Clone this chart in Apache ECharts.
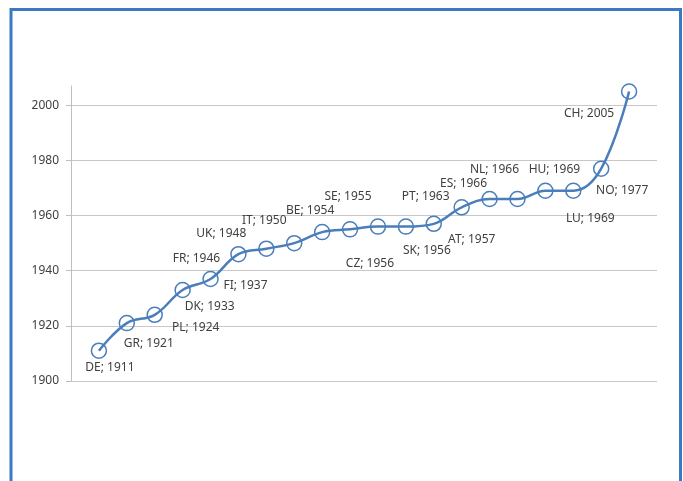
<!DOCTYPE html>
<html>
<head>
<meta charset="utf-8">
<script src="https://cdn.jsdelivr.net/npm/echarts@6/dist/echarts.min.js"></script>
<style>
html,body{margin:0;padding:0;background:#fff;}
#chart{width:683px;height:481px;}
</style>
</head>
<body>
<div id="chart"></div>
<script>
var countries = ['DE','GR','PL','DK','FI','FR','UK','IT','BE','SE','CZ','SK','AT','PT','ES','NL','HU','LU','NO','CH'];
var years = [1911,1921,1924,1933,1937,1946,1948,1950,1954,1955,1956,1956,1957,1963,1966,1966,1969,1969,1977,2005];
var yTicks = [1900,1920,1940,1960,1980,2000];
// label placement (offset of label centre from the point, px)
var labelOffsets = [[11,17],[22,20],[41,13],[27,17],[35,7],[-42,4],[-45,-15],[-30,-23],[-12,-22],[-2,-33],
                    [-8,37],[21,24],[38,16],[-36,-11],[-26,-15],[-23,-29],[9,-21],[17,28],[21,22],[-40,22]];

var blue = '#4A7EBB';
var seriesData = countries.map(function(c,i){
  return {value:[i+1, years[i]], name:c};
});

var chart = echarts.init(document.getElementById('chart'));
chart.setOption({
  animation:false,
  graphic:[{
    type:'rect',
    shape:{x:11,y:9.5,width:669.5,height:520},
    style:{fill:'none',stroke:'#3B7AC3',lineWidth:3},
    z:100
  }],
  grid:{left:71,right:26,top:86,bottom:100,containLabel:false},
  xAxis:{
    type:'value',min:0,max:21,
    axisLine:{show:false},axisTick:{show:false},axisLabel:{show:false},splitLine:{show:false}
  },
  yAxis:{
    type:'value',min:1900,max:2007,interval:20,
    axisLine:{show:true,lineStyle:{color:'#BFBFBF',width:1}},
    axisTick:{show:true,length:5,lineStyle:{color:'#BFBFBF'},customValues:yTicks},
    axisLabel:{color:'#404040',fontFamily:'Noto Sans',fontSize:12,margin:12,customValues:yTicks,
               formatter:function(v){return String(v);}},
    splitLine:{show:true,lineStyle:{color:'#C8C8C8',width:1}}
  },
  series:[{
    type:'line',
    data:seriesData,
    smooth:0.4,
    clip:false,
    symbol:'circle',
    symbolSize:15,
    lineStyle:{color:blue,width:2.5},
    itemStyle:{color:'rgba(255,255,255,0)',borderColor:blue,borderWidth:1.5},
    label:{
      show:true,
      position:'inside',
      color:'#404040',
      fontFamily:'Noto Sans',
      fontSize:12,
      formatter:function(p){return p.name+'; '+p.value[1];}
    },
    labelLayout:function(params){
      var o = labelOffsets[params.dataIndex];
      return {dx:o[0], dy:o[1], hideOverlap:false};
    },
    z:5
  }]
});
</script>
</body>
</html>
